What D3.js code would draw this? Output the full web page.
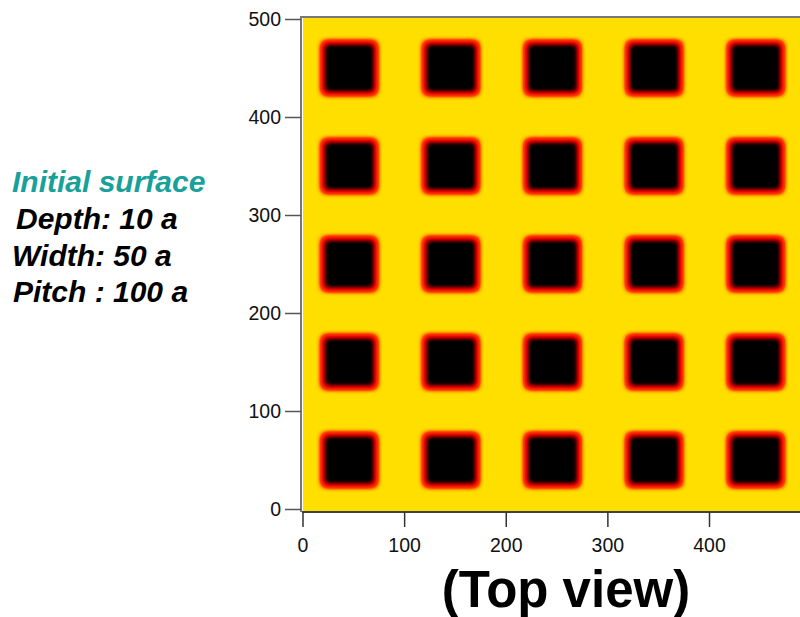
<!DOCTYPE html>
<html>
<head>
<meta charset="utf-8">
<script src="https://cdn.jsdelivr.net/npm/d3@7"></script>
<style>
  html, body { margin: 0; padding: 0; background: #fff; }
  svg { display: block; font-family: "Liberation Sans", Arial, sans-serif; }
</style>
</head>
<body>
<svg id="chart" width="800" height="617"></svg>
<script>
// Pit centres of the patterned surface (units of a)
const pitCentersX = [46, 146, 246, 346, 446];
const pitCentersY = [50, 150, 250, 350, 450];
const pitWidth = 50;     // a
const pitDepth = 10;     // a

// Axis ticks
const xTicks = [0, 100, 200, 300, 400];
const yTicks = [0, 100, 200, 300, 400, 500];

// Annotation text
const titleLine = "Initial surface";
const infoLines = ["Depth: 10 a", "Width: 50 a", "Pitch : 100 a"];
const viewLabel = "(Top view)";

// Depth colour map: flat surface -> yellow, rim -> red, pit floor -> black
const depthColor = d3.scaleLinear()
  .domain([0, 0.12 * pitDepth, 0.4 * pitDepth, 0.7 * pitDepth, 0.92 * pitDepth])
  .range(["#FFDF00", "#FF4000", "#E80000", "#600000", "#000000"])
  .clamp(true);

const svg = d3.select("#chart");

const x = d3.scaleLinear().domain([0, 400]).range([302.5, 709]);
const y = d3.scaleLinear().domain([0, 500]).range([509, 19]);

const plot = { left: 303, right: 800, top: 18, bottom: 511 };

const defs = svg.append("defs");
defs.append("clipPath").attr("id", "plotClip")
  .append("rect")
  .attr("x", plot.left).attr("y", plot.top)
  .attr("width", plot.right - plot.left).attr("height", plot.bottom - plot.top);

// Pits are drawn as a grey depth map (white = surface, black = full depth),
// smoothed, then mapped through the depth colour map channel by channel.
const steps = d3.range(0, 41).map(i => i / 40);           // luminance 0..1
const sampled = steps.map(l => d3.rgb(depthColor((1 - l) * pitDepth)));
const filt = defs.append("filter").attr("id", "depthMap")
  .attr("x", 0).attr("y", 0).attr("width", 1).attr("height", 1)
  .attr("filterUnits", "objectBoundingBox")
  .attr("color-interpolation-filters", "sRGB");
filt.append("feGaussianBlur").attr("stdDeviation", 3.1).attr("result", "soft");
const ct = filt.append("feComponentTransfer").attr("in", "soft");
ct.append("feFuncR").attr("type", "table").attr("tableValues", sampled.map(c => (c.r / 255).toFixed(3)).join(" "));
ct.append("feFuncG").attr("type", "table").attr("tableValues", sampled.map(c => (c.g / 255).toFixed(3)).join(" "));
ct.append("feFuncB").attr("type", "table").attr("tableValues", sampled.map(c => (c.b / 255).toFixed(3)).join(" "));

const clipG = svg.append("g").attr("clip-path", "url(#plotClip)");
const surf = clipG.append("g").attr("filter", "url(#depthMap)");
surf.append("rect")
  .attr("x", plot.left - 40).attr("y", plot.top - 40)
  .attr("width", plot.right - plot.left + 80).attr("height", plot.bottom - plot.top + 80)
  .attr("fill", "#fff");

const pits = [];
pitCentersY.forEach(cy => pitCentersX.forEach(cx => pits.push({ cx, cy })));
const depthGrey = d3.scaleLinear().domain([0, pitDepth]).range(["#fff", "#000"]);
surf.selectAll("rect.pit").data(pits).join("rect")
  .attr("class", "pit")
  .attr("x", d => x(d.cx - pitWidth / 2))
  .attr("y", d => y(d.cy + pitWidth / 2))
  .attr("width", d => x(d.cx + pitWidth / 2) - x(d.cx - pitWidth / 2))
  .attr("height", d => y(d.cy - pitWidth / 2) - y(d.cy + pitWidth / 2))
  .attr("fill", depthGrey(pitDepth));

// Frame: top border
svg.append("line")
  .attr("x1", 300).attr("x2", 800).attr("y1", 17).attr("y2", 17)
  .attr("stroke", "#777").attr("stroke-width", 2);

// Y axis
const yAxis = svg.append("g").attr("transform", "translate(301,0)")
  .call(d3.axisLeft(y).tickValues(yTicks).tickSize(16).tickSizeOuter(0).tickPadding(4));
yAxis.select(".domain").attr("d", "M0,16V512").attr("stroke", "#777").attr("stroke-width", 2);
yAxis.selectAll(".tick line").attr("stroke", "#555").attr("stroke-width", 1.5);
yAxis.selectAll(".tick text").attr("font-size", 19.5).attr("fill", "#111")
  .attr("font-family", "Liberation Sans, Arial, sans-serif");

// X axis
const xAxis = svg.append("g").attr("transform", "translate(0,512)")
  .call(d3.axisBottom(x).tickValues(xTicks).tickSize(15).tickSizeOuter(0).tickPadding(11));
xAxis.select(".domain").attr("d", "M302,0H800").attr("stroke", "#000").attr("stroke-width", 1.5);
xAxis.selectAll(".tick line").attr("stroke", "#333").attr("stroke-width", 1.5);
xAxis.selectAll(".tick text").attr("font-size", 19.5).attr("fill", "#111")
  .attr("font-family", "Liberation Sans, Arial, sans-serif");

// Annotations
svg.append("text")
  .attr("x", 12).attr("y", 192)
  .attr("font-size", 30).attr("font-weight", "bold").attr("font-style", "italic")
  .attr("fill", "#18A09A")
  .text(titleLine);

const infoX = [16, 12, 13];
const infoY = [229, 266, 302];
svg.selectAll("text.info").data(infoLines).join("text")
  .attr("class", "info")
  .attr("x", (d, i) => infoX[i]).attr("y", (d, i) => infoY[i])
  .attr("font-size", 30).attr("font-weight", "bold").attr("font-style", "italic")
  .attr("fill", "#000")
  .text(d => d);

svg.append("text")
  .attr("x", 566).attr("y", 607)
  .attr("text-anchor", "middle")
  .attr("font-size", 51).attr("font-weight", "bold")
  .attr("fill", "#000")
  .text(viewLabel);
</script>
</body>
</html>
